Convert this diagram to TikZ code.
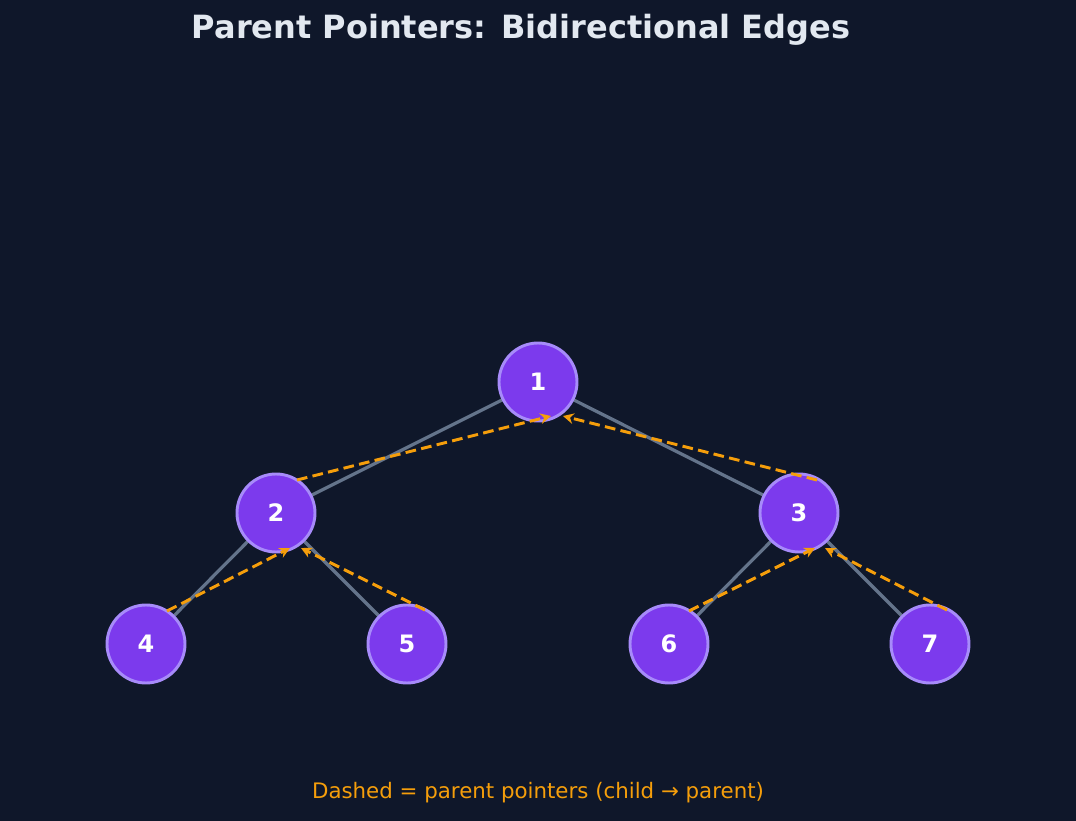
\documentclass[tikz,border=0pt]{standalone}
\usepackage{fontspec}
\setmainfont{DejaVu Sans}
\usetikzlibrary{arrows.meta}
\definecolor{bg}{HTML}{0F172A}
\definecolor{nfill}{HTML}{7C3AED}
\definecolor{nline}{HTML}{A78BFA}
\definecolor{edge}{HTML}{64748B}
\definecolor{ptr}{HTML}{F59E0B}
\definecolor{ttl}{HTML}{E2E8F0}
\begin{document}
\begin{tikzpicture}[x=0.75pt,y=-0.75pt,
  tn/.style={circle,draw=nline,fill=nfill,line width=2.2pt,minimum size=58.5pt,inner sep=0pt,text=white,font=\bfseries\fontsize{18}{20}\selectfont},
  te/.style={draw=edge,line width=2.4pt},
  pp/.style={draw=ptr,line width=2.2pt,dash pattern=on 8pt off 4pt,-{Stealth[length=8pt,width=8pt]}}]
\fill[bg] (0,0) rectangle (1076,821);
\useasboundingbox (0,0) rectangle (1076,821);
\node[text=ttl,font=\bfseries\fontsize{24}{28}\selectfont] (title) at (521,30) {Parent Pointers: Bidirectional Edges};
\coordinate (c1) at (538,382);
\coordinate (c2) at (276,513);
\coordinate (c3) at (799,513);
\coordinate (c4) at (146,644);
\coordinate (c5) at (407,644);
\coordinate (c6) at (669,644);
\coordinate (c7) at (930,644);
\draw[te] (c1)--(c2); \draw[te] (c1)--(c3);
\draw[te] (c2)--(c4); \draw[te] (c2)--(c5);
\draw[te] (c3)--(c6); \draw[te] (c3)--(c7);
\node[tn] (n1) at (c1) {1};
\node[tn] (n2) at (c2) {2};
\node[tn] (n3) at (c3) {3};
\node[tn] (n4) at (c4) {4};
\node[tn] (n5) at (c5) {5};
\node[tn] (n6) at (c6) {6};
\node[tn] (n7) at (c7) {7};
\coordinate (s2) at (297,480); \coordinate (e21) at (551,416);
\coordinate (s3) at (817,480); \coordinate (e31) at (563,416);
\coordinate (s4) at (167,611); \coordinate (e42) at (290,548);
\coordinate (s5) at (425,610); \coordinate (e52) at (301,548);
\coordinate (s6) at (689,611); \coordinate (e63) at (815,548);
\coordinate (s7) at (947,610); \coordinate (e73) at (825,548);
\draw[pp] (s2)--(e21); \draw[pp] (s3)--(e31);
\draw[pp] (s4)--(e42); \draw[pp] (s5)--(e52);
\draw[pp] (s6)--(e63); \draw[pp] (s7)--(e73);
\node[text=ptr,font=\fontsize{16}{18}\selectfont] (foot) at (538,793) {Dashed = parent pointers (child → parent)};
\end{tikzpicture}
\end{document}
